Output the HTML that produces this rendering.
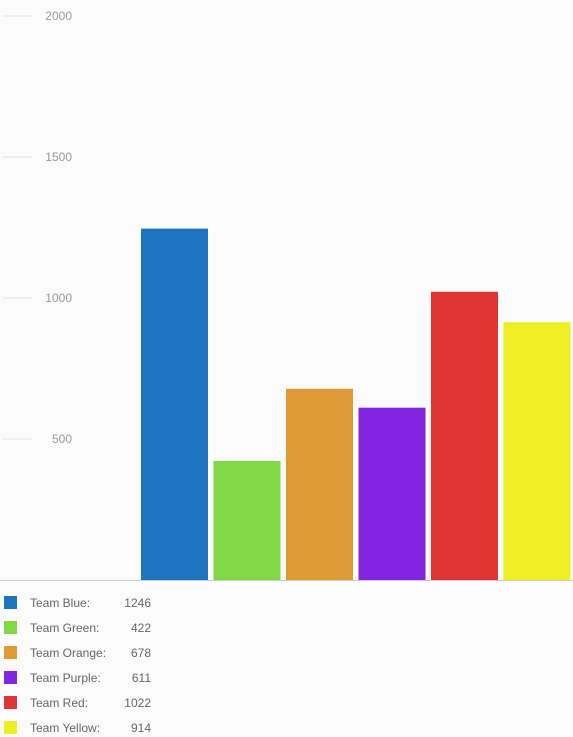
<!DOCTYPE html>
<html><head><meta charset="utf-8"><style>
body{margin:0;background:#fbfbfb;font-family:"Liberation Sans",sans-serif}
svg{display:block}
</style></head><body>
<svg id="c" width="573" height="737"></svg>
<script>
const categories=["Team Blue","Team Green","Team Orange","Team Purple","Team Red","Team Yellow"];
const values=[1246,422,678,611,1022,914];
const colors=["#1f74c0","#80d944","#de9a35","#8125e0","#e03535","#eeee22"];
const ticks=[500,1000,1500,2000];
const NS="http://www.w3.org/2000/svg";
const svg=document.getElementById('c');
const y0=580,k=141/500;
const yS=v=>y0-v*k;
const xS=i=>141+i*72.5;
function mk(t,a){const e=document.createElementNS(NS,t);for(const n in a)e.setAttribute(n,a[n]);svg.appendChild(e);return e;}
ticks.forEach(t=>{
 const l=mk('line',{x1:3,x2:32,y1:yS(t),y2:yS(t),stroke:'#e2e2e2'});
 
 
 const tx=mk('text',{x:72,y:yS(t)+4,'text-anchor':'end','font-size':12,fill:'#999'});
 tx.textContent=t;
 
 
});
values.forEach((v,i)=>{
 const r=mk('rect',{x:xS(i),y:yS(v),width:67,height:v*k,fill:colors[i]});
 
 
});
const b=mk('line',{x1:0,x2:573,y1:y0+0.5,y2:y0+0.5,stroke:'#ccc'});


categories.forEach((c,i)=>{
 const y=603+i*25;
 const s=mk('rect',{x:4,y:y-7,width:13,height:13,fill:colors[i]});
 
 
 const t=mk('text',{x:30,y:y+4,'font-size':12,fill:'#666'});
 t.textContent=c+':';
 
 
 const n=mk('text',{x:151,y:y+4,'font-size':12,fill:'#666','text-anchor':'end'});
 n.textContent=values[i];
 
 
});
</script>
</body></html>
